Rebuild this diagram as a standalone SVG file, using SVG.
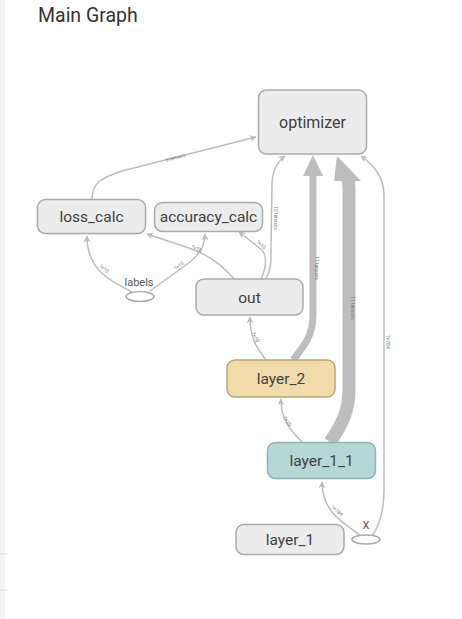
<svg xmlns="http://www.w3.org/2000/svg" width="462" height="619" viewBox="0 0 462 619">
<style>
.bg{fill:#ffffff}
.node{fill:#ececec;stroke:#aaaaaa;stroke-width:1.5}
.n2{fill:#f1dbab;stroke:#b9a47c;stroke-width:1.5}
.n11{fill:#b5d7d7;stroke:#8fb1b1;stroke-width:1.5}
.lbl{font-family:Roboto,"Liberation Sans",sans-serif;font-size:15.5px;fill:#404040;text-anchor:middle}
.small{font-family:Roboto,"Liberation Sans",sans-serif;font-size:11px;fill:#555;text-anchor:middle}
.edge{fill:none;stroke:#bdbdbd;stroke-width:1.5}
.thick{fill:none;stroke:#bdbdbd}
.el{font-family:Roboto,"Liberation Sans",sans-serif;font-size:5px;fill:#777;text-anchor:middle}
.oval{fill:#ffffff;stroke:#aaaaaa;stroke-width:1.5}
</style>
<defs>
<marker id="arr" viewBox="0 0 10 10" refX="9" refY="5" markerWidth="7" markerHeight="7" markerUnits="userSpaceOnUse" orient="auto">
<path d="M0,0 L10,5 L0,10 L3,5 z" fill="#bdbdbd"/>
</marker>
</defs>
<rect class="bg" x="0" y="0" width="462" height="619"/>
<rect x="0" y="0" width="5" height="619" fill="#f4f4f4"/>
<line x1="0" y1="554" x2="8" y2="554" stroke="#dddddd" stroke-width="1"/>
<line x1="0" y1="590" x2="8" y2="590" stroke="#dddddd" stroke-width="1"/>
<text x="38" y="22" font-family="Roboto,'Liberation Sans',sans-serif" font-size="19.5" fill="#333333">Main Graph</text>

<g id="connectors">
<path class="edge" d="M92,199 C92,184 100,178 122,171 L256,137" marker-end="url(#arr)"/>
<text class="el" transform="translate(176,159) rotate(-15)">6 tensors</text>

<path class="edge" d="M132,292 C110,281 87,270 87,236" marker-end="url(#arr)"/>
<text class="el" transform="translate(103,270) rotate(38)">?×10</text>

<path class="edge" d="M150,291 L190,262 C200,254 205,246 205,234" marker-end="url(#arr)"/>
<text class="el" transform="translate(180,267) rotate(-38)">?×10</text>

<path class="edge" d="M234,279 C220,262 205,253 186,247 L147,234" marker-end="url(#arr)"/>
<text class="el" transform="translate(196,250) rotate(22)">?×10</text>

<path class="edge" d="M261,279 C266,268 268,258 262,250 L239,232" marker-end="url(#arr)"/>
<text class="el" transform="translate(260,246) rotate(40)">?×10</text>

<path class="edge" stroke-width="2.5" d="M266,279 C272,268 271,258 271,245 L272,185 C272,170 277,162 285,156" marker-end="url(#arr)"/>
<text class="el" transform="translate(274,218) rotate(90)">12 tensors</text>

<path class="thick" stroke-width="7" d="M293,360 C305,345 313,335 313,315 L313,174"/>
<polygon points="313,155 303,176 323,176" fill="#bdbdbd"/>
<text class="el" transform="translate(315,268) rotate(90)">11 tensors</text>

<path class="thick" stroke-width="13" d="M330,442 C342,425 349,410 349,390 L349,190 C349,182 348,180 347,178"/>
<polygon points="337,156 334,181 361,181" fill="#bdbdbd"/>
<text class="el" transform="translate(351,308) rotate(90)">11 tensors</text>

<path class="edge" d="M372,536 C380,525 384,510 384,490 L384,195 C384,176 373,165 361,156" marker-end="url(#arr)"/>
<text class="el" transform="translate(386,342) rotate(90)">?×784</text>

<path class="edge" d="M266,360 C255,346 250,336 250,317" marker-end="url(#arr)"/>
<text class="el" transform="translate(254,338) rotate(62)">?×10</text>

<path class="edge" d="M302,442 C290,430 281,420 281,399" marker-end="url(#arr)"/>
<text class="el" transform="translate(286,422) rotate(60)">?×20</text>

<path class="edge" d="M360,535 C340,521 322,510 322,482" marker-end="url(#arr)"/>
<text class="el" transform="translate(336,512) rotate(40)">?×784</text>
</g>

<g id="optimizer">
<rect class="node" x="258.5" y="90" width="108" height="64" rx="8"/>
<text class="lbl" x="312.5" y="128" style="font-size:16px">optimizer</text>
</g>
<g id="loss_calc">
<rect class="node" x="37.5" y="199.5" width="108" height="34" rx="8"/>
<text class="lbl" x="91.5" y="221.5">loss_calc</text>
</g>
<g id="accuracy_calc">
<rect class="node" x="154.5" y="202.5" width="108" height="29" rx="8"/>
<text class="lbl" x="208.5" y="221.5">accuracy_calc</text>
</g>
<g id="labels">
<ellipse class="oval" cx="140" cy="296.5" rx="14" ry="5"/>
<text class="small" x="139" y="286">labels</text>
</g>
<g id="out">
<rect class="node" x="196" y="279" width="107" height="36" rx="8"/>
<text class="lbl" x="249.5" y="303">out</text>
</g>
<g id="layer_2">
<rect class="n2" x="227" y="360" width="108" height="37" rx="8"/>
<text class="lbl" x="281" y="383.5">layer_2</text>
</g>
<g id="layer_1_1">
<rect class="n11" x="267.5" y="442.5" width="108" height="36" rx="8"/>
<text class="lbl" x="321.5" y="466">layer_1_1</text>
</g>
<g id="layer_1">
<rect class="node" x="236" y="524.5" width="108" height="30" rx="8"/>
<text class="lbl" x="290" y="545">layer_1</text>
</g>
<g id="X">
<ellipse class="oval" cx="366" cy="539.5" rx="14" ry="4.5"/>
<text class="small" x="366" y="529">X</text>
</g>
</svg>
